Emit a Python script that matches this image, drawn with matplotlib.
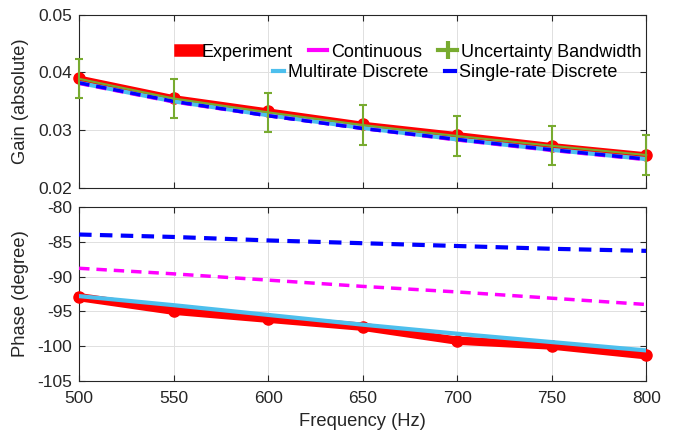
import numpy as np
import matplotlib.pyplot as plt
from matplotlib.lines import Line2D

plt.rcParams['font.family'] = ['Liberation Sans', 'DejaVu Sans']
plt.rcParams['axes.unicode_minus'] = False

# frequencies
freq = [500, 550, 600, 650, 700, 750, 800]

# gain (absolute)
gain_exp = [0.0390, 0.0356, 0.0333, 0.0310, 0.0292, 0.0273, 0.0257]
gain_unc = [0.0389, 0.0355, 0.0331, 0.0309, 0.0290, 0.0273, 0.0257]
gain_err = [0.0034, 0.0034, 0.0034, 0.0034, 0.0034, 0.0034, 0.0034]
gain_multi = [0.0382, 0.0350, 0.0326, 0.0304, 0.0284, 0.0266, 0.0250]
gain_cont = [0.0381, 0.0349, 0.0325, 0.0303, 0.0283, 0.0265, 0.0249]
gain_single = [0.0382, 0.0350, 0.0325, 0.0303, 0.0284, 0.0266, 0.0250]

# phase (degree)
phase_exp = [-92.95, -94.9, -96.05, -97.2, -99.2, -99.9, -101.3]
phase_multi = [-92.8, -94.1, -95.5, -96.9, -98.2, -99.4, -100.6]
phase_cont = [-88.8, -89.6, -90.5, -91.4, -92.2, -93.1, -94.0]
phase_single = [-83.95, -84.3, -84.8, -85.2, -85.6, -86.0, -86.3]

red = (1, 0, 0)
cyan = (0.30, 0.75, 0.93)
mag = (1, 0, 1)
blue = (0, 0, 1)
green = (0.47, 0.67, 0.19)
dark = (0.15, 0.15, 0.15)

fig = plt.figure(figsize=(6.76, 4.34), dpi=100)
ax1 = fig.add_axes([0.117, 0.567, 0.839, 0.399])
ax2 = fig.add_axes([0.117, 0.122, 0.839, 0.401])

def style(ax):
    ax.grid(True, color=(0.88, 0.88, 0.88), lw=0.7)
    ax.set_axisbelow(True)
    ax.tick_params(direction='in', top=True, right=True, labelsize=12.5,
                   colors=dark, length=4, pad=5)
    ax.tick_params(axis='x', pad=7)
    for s in ax.spines.values():
        s.set_color(dark)
    ax.set_xlim(500, 800)
    ax.set_xticks(freq)

# gain
ax1.plot(freq, gain_exp, '-o', color=red, lw=4, ms=8, zorder=3, clip_on=False)
ax1.plot(freq, gain_multi, '-', color=cyan, lw=3, zorder=3)
ax1.plot(freq, gain_cont, '--', color=mag, lw=2.5, dashes=(3, 2), zorder=3)
ax1.plot(freq, gain_single, '--', color=blue, lw=2.5, dashes=(3, 2), zorder=4)
ax1.errorbar(freq, gain_unc, yerr=gain_err, color=green, lw=1.5,
             capsize=3, capthick=1.5, zorder=5, clip_on=False)
style(ax1)
ax1.set_ylim(0.02, 0.05)
ax1.set_yticks([0.02, 0.03, 0.04, 0.05])
ax1.set_yticklabels(['0.02', '0.03', '0.04', '0.05'])
ax1.set_xticklabels([])
ax1.set_ylabel('Gain (absolute)', fontsize=13.2, color=dark)
ax1.yaxis.set_label_coords(-0.088, 0.5)

# phase
ax2.plot(freq, phase_exp, '-o', color=red, lw=6, ms=8, zorder=3, clip_on=False)
ax2.plot(freq, phase_multi, '-', color=cyan, lw=3, zorder=4)
ax2.plot(freq, phase_cont, '--', color=mag, lw=2.5, dashes=(3, 2), zorder=3)
ax2.plot(freq, phase_single, '--', color=blue, lw=3, dashes=(3, 2), zorder=3)
style(ax2)
ax2.set_ylim(-105, -80)
ax2.set_yticks([-105, -100, -95, -90, -85, -80])
ax2.set_ylabel('Phase (degree)', fontsize=13.2, color=dark)
ax2.yaxis.set_label_coords(-0.088, 0.5)
ax2.set_xlabel('Frequency (Hz)', fontsize=13.2, color=dark)
ax2.xaxis.set_label_coords(0.5, -0.185)

# legend, two rows
h_exp = Line2D([], [], color=red, lw=9)
h_cont = Line2D([], [], color=mag, lw=3)
h_unc = ax1.errorbar([], [], yerr=[], color=green, lw=3, capsize=4, capthick=1.5)
h_multi = Line2D([], [], color=cyan, lw=3)
h_single = Line2D([], [], color=blue, lw=3)

leg1 = ax1.legend([h_exp, h_cont, h_unc],
                  ['Experiment', 'Continuous', 'Uncertainty Bandwidth'],
                  ncol=3, frameon=False, fontsize=13, handlelength=1.0,
                  handletextpad=0.22, columnspacing=0.9, borderpad=0,
                  borderaxespad=0, loc='center left',
                  bbox_to_anchor=(0.266, 0.880), bbox_transform=fig.transFigure)
ax1.add_artist(leg1)
ax1.legend([h_multi, h_single],
           ['Multirate Discrete', 'Single-rate Discrete'],
           ncol=2, frameon=False, fontsize=13, handlelength=0.6,
           handletextpad=0.22, columnspacing=0.9, borderpad=0,
           borderaxespad=0, loc='center left',
           bbox_to_anchor=(0.404, 0.832), bbox_transform=fig.transFigure)

fig.savefig('out.png', dpi=100)
